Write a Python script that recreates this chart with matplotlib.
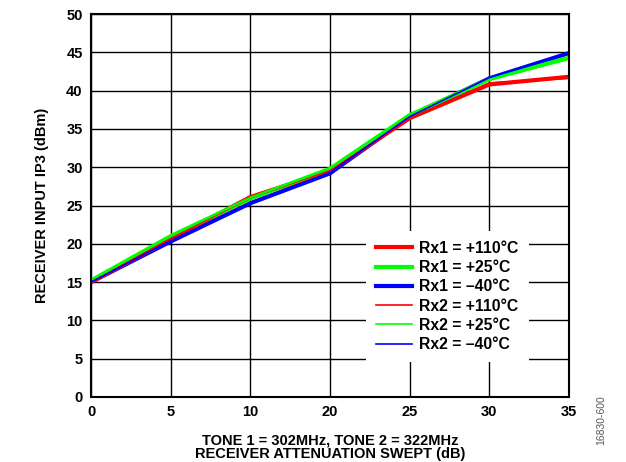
import matplotlib
matplotlib.use("Agg")
import matplotlib.pyplot as plt

plt.rcParams['font.family'] = ['Liberation Sans', 'DejaVu Sans']
plt.rcParams['font.weight'] = 'bold'

x_labels = ['0', '5', '10', '20', '25', '30', '35']
rx1_110 = [15.0, 20.6, 26.1, 29.5, 36.4, 40.8, 41.8]
rx1_25 = [15.2, 21.0, 25.9, 29.8, 36.8, 41.5, 44.3]
rx1_m40 = [15.0, 20.3, 25.3, 29.2, 36.6, 41.6, 44.9]
rx2_110 = [15.0, 20.7, 26.0, 29.6, 36.3, 41.0, 41.6]
rx2_25 = [15.2, 21.0, 26.0, 29.8, 36.8, 41.4, 44.1]
rx2_m40 = [15.0, 20.4, 25.4, 29.3, 36.6, 41.7, 44.8]

xs = list(range(len(x_labels)))

fig = plt.figure(figsize=(6.26, 4.62), dpi=100)
ax = fig.add_axes([91/626, 1-397/462, (569-91)/626, (397-14)/462])

red, green, blue = '#ff0000', '#00ff00', '#0000ff'
ax.plot(xs, rx1_110, color=red, lw=3.0, label='Rx1 = +110°C', zorder=3)
ax.plot(xs, rx1_25, color=green, lw=3.0, label='Rx1 = +25°C', zorder=3)
ax.plot(xs, rx1_m40, color=blue, lw=3.0, label='Rx1 = –40°C', zorder=2)
ax.plot(xs, rx2_110, color=red, lw=1.2, label='Rx2 = +110°C', zorder=4)
ax.plot(xs, rx2_25, color=green, lw=1.2, label='Rx2 = +25°C', zorder=4)
ax.plot(xs, rx2_m40, color=blue, lw=1.2, label='Rx2 = –40°C', zorder=4)

ax.set_xlim(0, 6)
ax.set_ylim(0, 50)
ax.set_xticks(xs)
ax.set_xticklabels(x_labels)
ax.set_yticks(range(0, 51, 5))
ax.grid(True, color='black', lw=1.0)
ax.tick_params(length=0, labelsize=10.5, pad=6)
for s in ax.spines.values():
    s.set_linewidth(1.5)
    s.set_zorder(5)

ax.set_ylabel('RECEIVER INPUT IP3 (dBm)', fontsize=10.5, fontweight='bold', labelpad=12)
ax.set_xlabel('TONE 1 = 302MHz, TONE 2 = 322MHz\nRECEIVER ATTENUATION SWEPT (dB)',
              fontsize=10.5, fontweight='bold', labelpad=10, linespacing=0.95)

leg = ax.legend(loc='upper left', bbox_to_anchor=(0.575, 0.434), frameon=True,
                fontsize=11.3, handlelength=2.3, labelspacing=0.27,
                borderpad=0.65, handletextpad=0.45, borderaxespad=0)
leg.get_frame().set_edgecolor('none')
leg.get_frame().set_facecolor('white')
leg.get_frame().set_alpha(1)
leg.get_frame().set_boxstyle('square', pad=0)
leg.set_zorder(6)

fig.text(601/626, 1-420/462, '16830-600', rotation=90, fontsize=7.5,
         fontweight='normal', color='#555555', ha='center', va='center')

fig.savefig('out.png', dpi=100)
